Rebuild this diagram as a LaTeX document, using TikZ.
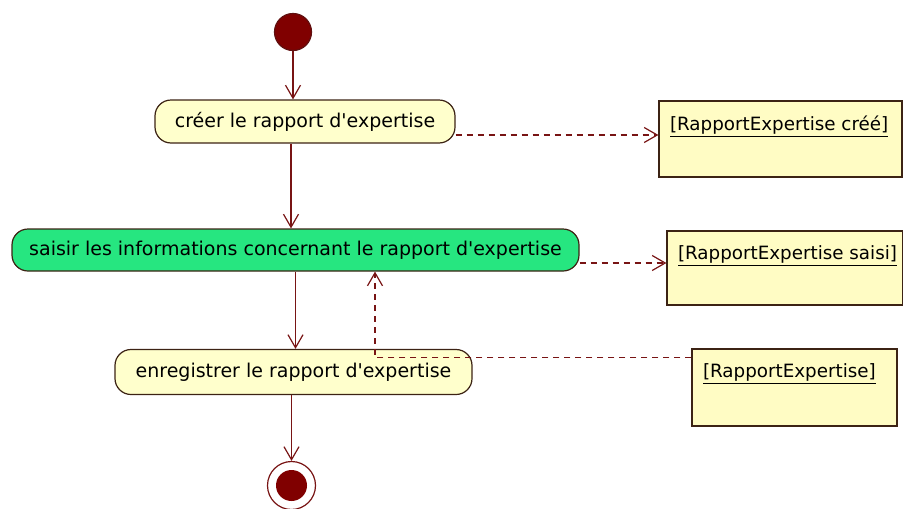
\documentclass[tikz,border=0pt]{standalone}
\usepackage{fontspec}
\setmainfont{DejaVu Sans}
\usetikzlibrary{arrows.meta}
\definecolor{umlred}{RGB}{120,20,20}
\definecolor{dotred}{RGB}{128,0,0}
\definecolor{umledge}{RGB}{60,35,20}
\definecolor{actfill}{RGB}{255,255,204}
\definecolor{actgreen}{RGB}{38,230,128}
\definecolor{notefill}{RGB}{255,252,196}
\begin{document}
\begin{tikzpicture}[x=1pt,y=-1pt,line width=1.2pt,
  txt/.style={font=\fontsize{19}{22}\selectfont},
  action/.style={txt,draw=umledge,fill=actfill,rounded corners=16pt,inner sep=0pt},
  note/.style={draw=umledge,fill=notefill,inner sep=0pt},
  notelabel/.style={font=\fontsize{18.3}{22}\selectfont,anchor=north west,inner sep=0pt,xshift=11pt,yshift=-15pt},
  flow/.style={draw=umlred,-{Straight Barb[length=13pt,width=15pt]}},
  objflow/.style={flow,dash pattern=on 6pt off 5pt}]
\useasboundingbox (0,0) rectangle (903,509);

\node[circle,fill=dotred,draw=umlred!80!black,minimum size=37pt,inner sep=0pt] (start) at (293,32) {};
\node[action,minimum width=300pt,minimum height=43pt] (creer) at (305,121.5) {créer le rapport d\textquotesingle expertise};
\node[action,fill=actgreen,minimum width=567pt,minimum height=42pt] (saisir) at (295.5,250) {saisir les informations concernant le rapport d\textquotesingle expertise};
\node[action,minimum width=357pt,minimum height=45pt] (enreg) at (293.5,372) {enregistrer le rapport d\textquotesingle expertise};
\node[circle,draw=umlred,fill=white,minimum size=48pt,inner sep=0pt,
  path picture={\fill[dotred] (path picture bounding box.center) circle (15.5pt);}] (end) at (291.5,485.5) {};

\node[note,minimum width=243pt,minimum height=76pt,
  label={[notelabel]north west:\underline{[RapportExpertise créé]}}] (note1) at (780.5,139) {};
\node[note,minimum width=236pt,minimum height=74pt,
  label={[notelabel]north west:\underline{[RapportExpertise saisi]}}] (note2) at (785,268) {};
\node[note,minimum width=205pt,minimum height=77pt,
  label={[notelabel]north west:\underline{[RapportExpertise]}}] (note3) at (794.5,387.5) {};

\draw[flow] (start.south) -- (start.south |- creer.north);
\draw[flow] ([xshift=-14pt]creer.south) -- ([xshift=-4.5pt]saisir.north);
\draw[flow] (saisir.south) -- (saisir.south |- enreg.north);
\draw[flow] (end.north |- enreg.south) -- (end.north);

\draw[objflow] ([yshift=-13.5pt]creer.east) -- ([yshift=4pt]note1.west);
\draw[objflow] ([yshift=-13pt]saisir.east) -- ([yshift=5pt]note2.west);
\draw[objflow] ([yshift=-9pt]note3.north west) -| ([xshift=79.5pt]saisir.south);
\end{tikzpicture}
\end{document}
